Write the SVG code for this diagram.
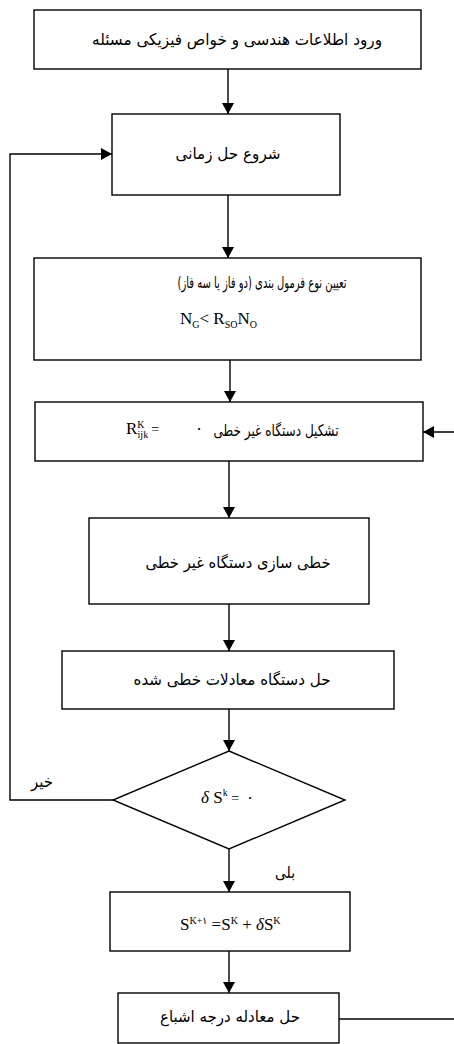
<svg xmlns="http://www.w3.org/2000/svg" width="454" height="1044" viewBox="0 0 454 1044">
<style>
.box{fill:#fff;stroke:#000;stroke-width:1.4}
.ln{fill:none;stroke:#000;stroke-width:1.4}
.fa{font-family:"DejaVu Sans",sans-serif;font-size:16px;fill:#000;direction:rtl;text-anchor:middle}
.m{font-family:"Liberation Serif",serif;font-size:17px;fill:#000}
.s{font-size:10px}
</style>
<defs>
<marker id="ah" markerUnits="userSpaceOnUse" markerWidth="12" markerHeight="12" refX="11" refY="6" orient="auto">
<path d="M0,0 L11,6 L0,12 z" fill="#000"/>
</marker>
</defs>
<rect width="454" height="1044" fill="#fff"/>
<g id="connectors">
<line class="ln" x1="228" y1="69" x2="228" y2="114" marker-end="url(#ah)"/>
<line class="ln" x1="228" y1="195" x2="228" y2="258" marker-end="url(#ah)"/>
<line class="ln" x1="230" y1="360" x2="230" y2="402" marker-end="url(#ah)"/>
<line class="ln" x1="229" y1="461" x2="229" y2="518" marker-end="url(#ah)"/>
<line class="ln" x1="229" y1="604" x2="229" y2="651" marker-end="url(#ah)"/>
<line class="ln" x1="229" y1="709" x2="229" y2="751" marker-end="url(#ah)"/>
<line class="ln" x1="229" y1="849" x2="229" y2="892" marker-end="url(#ah)"/>
<line class="ln" x1="229" y1="951" x2="229" y2="993" marker-end="url(#ah)"/>
<polyline class="ln" points="113,800 10,800 10,154 112,154" marker-end="url(#ah)"/>
<polyline class="ln" points="339,1019 456,1019 456,432 423,432" marker-end="url(#ah)"/>
<text class="fa" x="42" y="787" textLength="22" lengthAdjust="spacingAndGlyphs">خیر</text>
<text class="fa" x="285" y="878" textLength="20" lengthAdjust="spacingAndGlyphs">بلی</text>
</g>
<g id="n1">
<rect class="box" x="34" y="10" width="387" height="59"/>
<text class="fa" x="237" y="45" textLength="290" lengthAdjust="spacingAndGlyphs">ورود اطلاعات هندسی و خواص فیزیکی مسئله</text>
</g>
<g id="n2">
<rect class="box" x="112" y="114" width="228" height="81"/>
<text class="fa" x="228" y="159" textLength="105" lengthAdjust="spacingAndGlyphs">شروع حل زمانی</text>
</g>
<g id="n3">
<rect class="box" x="34" y="258" width="387" height="102"/>
<text class="fa" x="262" y="288" textLength="169" lengthAdjust="spacingAndGlyphs">تعیین نوع فرمول بندی (دو فاز یا سه فاز)</text>
<text class="m" x="180" y="324">N<tspan class="s" dy="4">G</tspan><tspan dy="-4">&lt; R</tspan><tspan class="s" dy="4">SO</tspan><tspan dy="-4">N</tspan><tspan class="s" dy="4">O</tspan></text>
</g>
<g id="n4">
<rect class="box" x="35" y="402" width="388" height="59"/>
<text class="fa" x="276" y="436" textLength="125" lengthAdjust="spacingAndGlyphs">تشکیل دستگاه غیر خطی</text>
<text class="m" x="126" y="434">R<tspan class="s" dy="-6">K</tspan><tspan class="s" dx="-7" dy="10">ijk</tspan><tspan dx="3" dy="-4" font-size="14">=</tspan></text>
<text class="fa" x="199" y="434">۰</text>
</g>
<g id="n5">
<rect class="box" x="89" y="518" width="280" height="86"/>
<text class="fa" x="238" y="568" textLength="185" lengthAdjust="spacingAndGlyphs">خطی سازی دستگاه غیر خطی</text>
</g>
<g id="n6">
<rect class="box" x="62" y="651" width="332" height="58"/>
<text class="fa" x="232" y="685" textLength="197" lengthAdjust="spacingAndGlyphs">حل دستگاه معادلات خطی شده</text>
</g>
<g id="n7">
<polygon class="box" points="229,751 345,800 229,849 113,800"/>
<text class="m" x="201" y="803"><tspan font-style="italic">δ</tspan> S<tspan class="s" dy="-7">k</tspan><tspan dy="7" font-size="14"> = </tspan></text>
<text class="fa" x="250" y="803">۰</text>
</g>
<g id="n8">
<rect class="box" x="110" y="892" width="240" height="59"/>
<text class="m" x="180" y="930" font-size="16">S<tspan class="s" dy="-6">K+۱</tspan><tspan dy="6"> =S</tspan><tspan class="s" dy="-6">K</tspan><tspan dy="6"> + </tspan><tspan font-style="italic">δ</tspan>S<tspan class="s" dy="-6">K</tspan></text>
</g>
<g id="n9">
<rect class="box" x="118" y="993" width="221" height="50"/>
<text class="fa" x="230" y="1022" textLength="140" lengthAdjust="spacingAndGlyphs">حل معادله درجه اشباع</text>
</g>
</svg>
